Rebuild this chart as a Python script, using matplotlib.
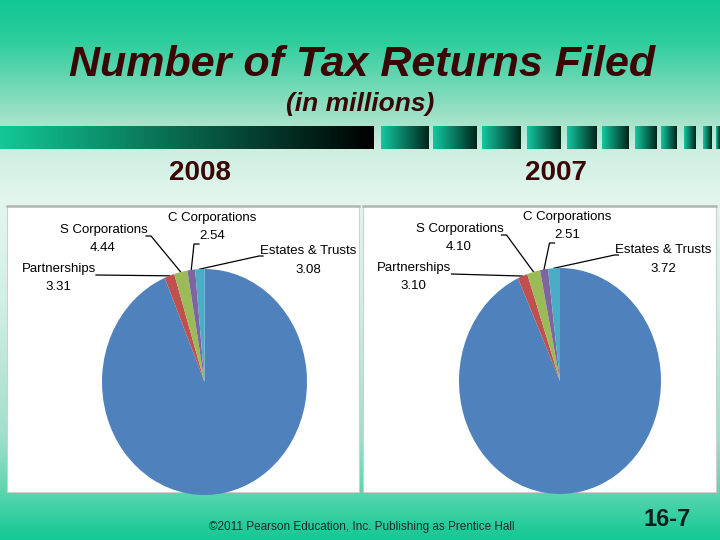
import numpy as np
import matplotlib.pyplot as plt
from matplotlib.colors import to_rgb
from matplotlib.patches import Rectangle

# Number of tax returns filed (in millions)
categories = ['Individuals', 'Partnerships', 'S Corporations',
              'C Corporations', 'Estates & Trusts']
returns_2008 = [197.41, 3.31, 4.44, 2.54, 3.08]
returns_2007 = [183.09, 3.10, 4.10, 2.51, 3.72]
years = ['2008', '2007']

slice_colors = ['#4f81bd', '#c0504d', '#9bbb59', '#8064a2', '#4bacc6']
dark_red = '#3a0606'
slide_font = ['Liberation Sans', 'DejaVu Sans']
LABEL_SIZE = 9.5

W, H = 720, 540
fig = plt.figure(figsize=(W / 100, H / 100), dpi=100)


def pixel_axes():
    # axes covering the whole figure, coordinates in image pixels (y down)
    ax = fig.add_axes([0, 0, 1, 1])
    ax.set_xlim(0, W)
    ax.set_ylim(H, 0)
    ax.axis('off')
    return ax


def vgradient(stops, n):
    ys = np.arange(n) + 0.5
    pos = [s[0] for s in stops]
    cols = np.array([to_rgb(s[1]) for s in stops])
    out = np.stack([np.interp(ys, pos, cols[:, k]) for k in range(3)], axis=-1)
    return out[:, None, :]


def hgradient(c0, c1, n=256):
    t = np.linspace(0, 1, n)[:, None]
    out = (1 - t) * np.array(to_rgb(c0)) + t * np.array(to_rgb(c1))
    return out[None, :, :]


bg = pixel_axes()

# slide background
bg_stops = [(0, '#10c894'), (40, '#2ccd9c'), (120, '#a4e2c9'), (150, '#cdeee1'),
            (200, '#e3f6ee'), (300, '#d2f0e3'), (440, '#9fdfc7'),
            (492, '#5ad6ad'), (540, '#12c894')]
bg.imshow(vgradient(bg_stops, H), extent=(0, W, H, 0), aspect='auto',
          interpolation='bilinear', zorder=0)

# header band: long bar + shrinking squares
bg.imshow(hgradient('#12c896', '#000000'), extent=(0, 374, 149, 126),
          aspect='auto', zorder=1)
squares = [(381, 429), (433, 477), (482, 521), (527, 561), (567, 597), (602, 629),
           (635, 657), (661, 677), (684, 696), (703, 712), (716, 720)]
for x0, x1 in squares:
    bg.imshow(hgradient('#14c8a0', '#00241a'), extent=(x0, x1, 149, 126),
              aspect='auto', zorder=1)

# titles
bg.text(362, 76, 'Number of Tax Returns Filed', ha='center', va='baseline',
        fontsize=31, fontweight='bold', fontstyle='italic', color=dark_red,
        family=slide_font)
bg.text(360, 111, '(in millions)', ha='center', va='baseline',
        fontsize=19, fontweight='bold', fontstyle='italic', color=dark_red,
        family=slide_font)

panels = [
    dict(year=years[0], values=returns_2008, x0=7, x1=359, cx=204.5, cy=382, rx=102.5, ry=113),
    dict(year=years[1], values=returns_2007, x0=363, x1=716, cx=560, cy=381, rx=101, ry=113),
]
PANEL_TOP, PANEL_BOTTOM = 206, 492

# label layout, offsets from the pie centre in pixels: name, value, leader path
label_layout = {
    'Partnerships': ((-145.5, -113), (-146.5, -95), [(-108.5, -107)]),
    'S Corporations': ((-100.5, -152), (-101.5, -134), [(-58.5, -146), (-53.5, -146)]),
    'C Corporations': ((7.5, -164), (7.5, -146), [(-5.5, -138), (-10.5, -138)]),
    'Estates & Trusts': ((103.5, -131), (103.5, -112), [(58.5, -126), (54.5, -126)]),
}

for p in panels:
    bg.add_patch(Rectangle((p['x0'], PANEL_TOP), p['x1'] - p['x0'], PANEL_BOTTOM - PANEL_TOP,
                           facecolor='white', edgecolor='#cfcfcf', lw=0.8, zorder=2))
    bg.plot([p['x0'], p['x1']], [PANEL_TOP, PANEL_TOP], color='#b4b4b4', lw=1.8, zorder=3)
    bg.text(p['cx'] - 4.5, 173, p['year'], ha='center', va='center', fontsize=20,
            fontweight='bold', color=dark_red, family=slide_font)

overlay = pixel_axes()

for p in panels:
    cx, cy, rx, ry = p['cx'], p['cy'], p['rx'], p['ry']
    ax = fig.add_axes([p['x0'] / W, (H - PANEL_BOTTOM) / H,
                       (p['x1'] - p['x0']) / W, (PANEL_BOTTOM - PANEL_TOP) / H])
    wedges, _ = ax.pie(p['values'], colors=slice_colors, startangle=90,
                       counterclock=False, radius=1, center=(0, 0),
                       wedgeprops=dict(linewidth=0))
    ax.set_aspect('auto')
    ax.set_xlim((p['x0'] - cx) / rx, (p['x1'] - cx) / rx)
    ax.set_ylim((cy - PANEL_BOTTOM) / ry, (cy - PANEL_TOP) / ry)
    ax.axis('off')

    for name, value, w in zip(categories, p['values'], wedges):
        if name == 'Individuals':
            overlay.text(cx - 4.5, cy + 23, 'Individuals,', ha='center', va='center',
                         fontsize=LABEL_SIZE, family=slide_font, zorder=5)
            overlay.text(cx - 4.5, cy + 41, f'{value:.2f}', ha='center', va='center',
                         fontsize=LABEL_SIZE, family=slide_font, zorder=5)
            continue
        (nx, ny), (vx, vy), path = label_layout[name]
        overlay.text(cx + nx, cy + ny, name, ha='center', va='center',
                     fontsize=LABEL_SIZE, family=slide_font, zorder=5)
        overlay.text(cx + vx, cy + vy, f'{value:.2f}', ha='center', va='center',
                     fontsize=LABEL_SIZE, family=slide_font, zorder=5)
        # leader line ends at the middle of the slice edge
        mid = np.deg2rad((w.theta1 + w.theta2) / 2)
        ex, ey = cx + rx * np.cos(mid), cy - ry * np.sin(mid)
        xs = [cx + dx for dx, _ in path] + [ex]
        ys = [cy + dy for _, dy in path] + [ey]
        overlay.plot(xs, ys, color='black', lw=0.9, zorder=4)

# footer
overlay.text(362, 527, '\u00a92011 Pearson Education, Inc. Publishing as Prentice Hall',
             ha='center', va='center', fontsize=8.5, color='#1a2a2a', family=slide_font)
overlay.text(667, 520, '16-7', ha='center', va='center', fontsize=17,
             fontweight='bold', color='#0a1e1e', family=slide_font)

fig.savefig('out.png', dpi=100)
